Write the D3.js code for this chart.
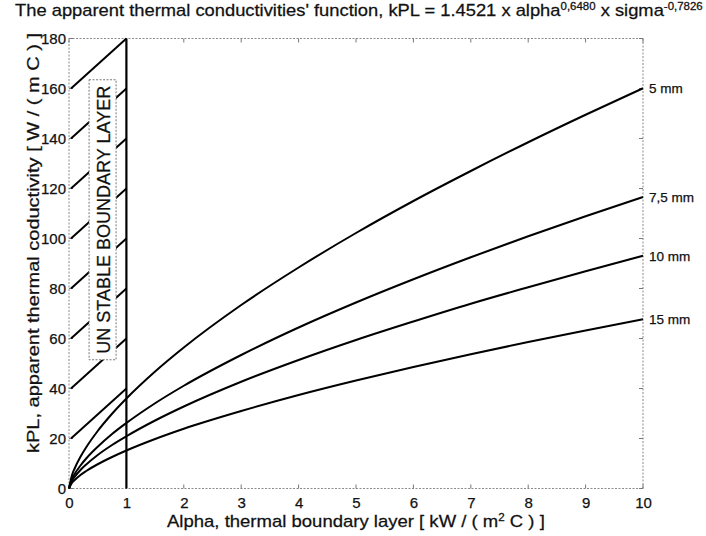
<!DOCTYPE html>
<html>
<head>
<meta charset="utf-8">
<script src="https://cdn.jsdelivr.net/npm/d3@7"></script>
<style>
html,body{margin:0;padding:0;background:#fff;}
svg{display:block;}
text{font-family:"Liberation Sans",Arial,Helvetica,sans-serif;fill:#111;stroke:#111;stroke-width:0.25px;}
</style>
</head>
<body>
<svg id="chart" width="706" height="536"></svg>
<script>
// ---- data ----
const alphaValues = [0, 0.05, 0.1, 0.2, 0.3, 0.5, 0.75, 1, 1.5, 2, 3, 4, 5, 6, 7, 8, 9, 10];
const series5mm  = [0, 5.2, 8.1, 12.7, 16.5, 23.0, 29.9, 36.0, 46.8, 56.4, 73.4, 88.4, 102.2, 115.0, 127.0, 138.5, 149.5, 160.1];
const series75mm = [0, 3.8, 5.9, 9.2, 12.0, 16.7, 21.8, 26.2, 34.1, 41.1, 53.4, 64.4, 74.4, 83.7, 92.5, 100.9, 108.9, 116.6];
const series10mm = [0, 3.0, 4.7, 7.4, 9.6, 13.4, 17.4, 20.9, 27.2, 32.8, 42.7, 51.4, 59.4, 66.8, 73.9, 80.5, 86.9, 93.1];
const series15mm = [0, 2.2, 3.4, 5.4, 7.0, 9.7, 12.6, 15.2, 19.8, 23.9, 31.0, 37.4, 43.2, 48.6, 53.7, 58.6, 63.2, 67.7];
const seriesLabels = ["5 mm", "7,5 mm", "10 mm", "15 mm"];
const xTicks = [0, 1, 2, 3, 4, 5, 6, 7, 8, 9, 10];
const yTicks = [0, 20, 40, 60, 80, 100, 120, 140, 160, 180];
// unstable region hatch lines: start value at alpha 0, end value at alpha 1
const hatchStart = [20, 40, 60, 80, 100, 120, 140, 160];
const hatchEnd   = [40, 60, 80, 100, 120, 140, 160, 180];
const unstableLimit = 1;

const svg = d3.select("#chart");
const M = {left: 69, right: 643, top: 38.5, bottom: 488.5};
const x = d3.scaleLinear().domain([0, 10]).range([M.left, M.right]);
const y = d3.scaleLinear().domain([0, 180]).range([M.bottom, M.top]);

// frame (scanned dotted look)
svg.append("rect")
  .attr("x", M.left).attr("y", M.top)
  .attr("width", M.right - M.left).attr("height", M.bottom - M.top)
  .attr("fill", "none").attr("stroke", "#8a8a8a").attr("stroke-width", 1)
  .attr("stroke-dasharray", "2,1.5");

// inner ticks
const tickLen = 4;
const tickG = svg.append("g").attr("stroke", "#777").attr("stroke-width", 1);
xTicks.forEach(t => {
  tickG.append("line").attr("x1", x(t)).attr("x2", x(t)).attr("y1", M.bottom).attr("y2", M.bottom - tickLen);
  tickG.append("line").attr("x1", x(t)).attr("x2", x(t)).attr("y1", M.top).attr("y2", M.top + tickLen);
});
yTicks.forEach(t => {
  tickG.append("line").attr("y1", y(t)).attr("y2", y(t)).attr("x1", M.left).attr("x2", M.left + tickLen);
  tickG.append("line").attr("y1", y(t)).attr("y2", y(t)).attr("x1", M.right).attr("x2", M.right - tickLen);
});

// axes labels via d3 axes (labels only)
const xAxis = d3.axisBottom(x).tickValues(xTicks).tickSize(0).tickPadding(9).tickFormat(d3.format("d"));
const gx = svg.append("g").attr("transform", `translate(0,${M.bottom})`).call(xAxis);
gx.select(".domain").remove();
gx.selectAll("text").attr("font-size", 15).attr("font-family", "Liberation Sans, Arial, sans-serif").attr("fill", "#111");

const yAxis = d3.axisLeft(y).tickValues(yTicks).tickSize(0).tickPadding(3).tickFormat(d3.format("d"));
const gy = svg.append("g").attr("transform", `translate(${M.left},0)`).call(yAxis);
gy.select(".domain").remove();
gy.selectAll("text").attr("font-size", 15).attr("font-family", "Liberation Sans, Arial, sans-serif").attr("fill", "#111");

// hatch lines for unstable region
const hatchG = svg.append("g").attr("stroke", "#000").attr("stroke-width", 2);
hatchStart.forEach((v, i) => {
  hatchG.append("line")
    .attr("x1", x(0) + 2).attr("y1", y(v))
    .attr("x2", x(unstableLimit)).attr("y2", y(hatchEnd[i]));
});

// label box
const box = {x0: 0.35, x1: 0.82, y0: 51.5, y1: 163.5};
svg.append("rect")
  .attr("x", x(box.x0)).attr("y", y(box.y1))
  .attr("width", x(box.x1) - x(box.x0)).attr("height", y(box.y0) - y(box.y1))
  .attr("fill", "#fff").attr("stroke", "#777").attr("stroke-width", 1)
  .attr("stroke-dasharray", "2,1.5");
const bcx = (x(box.x0) + x(box.x1)) / 2, bcy = (y(box.y0) + y(box.y1)) / 2;
svg.append("text")
  .attr("transform", `translate(${bcx + 7},${bcy}) rotate(-90)`)
  .attr("text-anchor", "middle")
  .attr("font-size", 19)
  .attr("textLength", 268).attr("lengthAdjust", "spacingAndGlyphs")
  .text("UN STABLE BOUNDARY LAYER");

// vertical limit line
svg.append("line")
  .attr("x1", x(unstableLimit)).attr("x2", x(unstableLimit))
  .attr("y1", y(0)).attr("y2", y(180))
  .attr("stroke", "#000").attr("stroke-width", 2.2);

// curves
const allSeries = [series5mm, series75mm, series10mm, series15mm];
const line = d3.line().x((d, i) => x(alphaValues[i])).y(d => y(d)).curve(d3.curveMonotoneX);
allSeries.forEach((s, k) => {
  svg.append("path").datum(s).attr("d", line)
    .attr("fill", "none").attr("stroke", "#000").attr("stroke-width", 2);
  svg.append("text")
    .attr("x", M.right + 6).attr("y", y(s[s.length - 1]) + 5)
    .attr("font-size", 13.5).text(seriesLabels[k]);
});

// title
const title = svg.append("text").attr("x", 0).attr("y", 16).attr("font-size", 16);
title.append("tspan").text("The apparent thermal conductivities' function, kPL = 1.4521 x alpha");
title.append("tspan").attr("font-size", 10).attr("dy", -6).text("0,6480");
title.append("tspan").attr("dy", 6).text(" x sigma");
title.append("tspan").attr("font-size", 10).attr("dy", -6).text("-0,7826");
{
  const w = title.node().getComputedTextLength();
  const target = 703 - 15;
  title.attr("transform", `translate(15,0) scale(${target / w},1)`);
}

// y-axis label
svg.append("text")
  .attr("transform", `translate(39,${243}) rotate(-90)`)
  .attr("text-anchor", "middle").attr("font-size", 16)
  .attr("textLength", 420).attr("lengthAdjust", "spacingAndGlyphs")
  .text("kPL, apparent thermal coductivity [ W / ( m C ) ]");

// x-axis label
const xl = svg.append("text").attr("y", 527).attr("font-size", 16);
xl.append("tspan").text("Alpha, thermal boundary layer [ kW / ( m");
xl.append("tspan").attr("font-size", 10).attr("dy", -6).text("2");
xl.append("tspan").attr("dy", 6).text(" C ) ]");
{
  const w = xl.node().getComputedTextLength();
  const target = 545 - 167;
  xl.attr("transform", `translate(167,0) scale(${target / w},1)`);
}
</script>
</body>
</html>
